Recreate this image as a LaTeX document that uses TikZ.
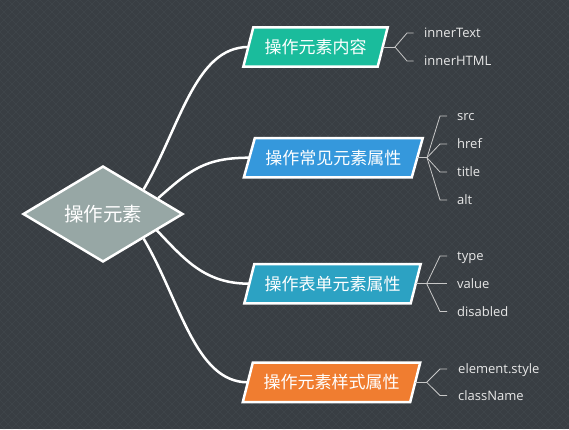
\documentclass[tikz,border=0pt]{standalone}
\usepackage{fontspec}
\setmainfont{Open Sans}
\newfontfamily\cjk{Noto Sans CJK SC}
\usetikzlibrary{shapes.geometric,backgrounds}
\definecolor{bg}{HTML}{393E43}
\definecolor{gridc}{HTML}{40464B}
\definecolor{cA}{HTML}{1ABC9C}
\definecolor{cB}{HTML}{3598DC}
\definecolor{cC}{HTML}{2CA2C3}
\definecolor{cD}{HTML}{F07D30}
\definecolor{cRoot}{HTML}{97A7A5}
\definecolor{leafc}{HTML}{C8C8C8}
\definecolor{leaft}{HTML}{E8E8E8}
\newcommand\paral[3]{%
  \filldraw[para, fill=#2] ([xshift=-#3]#1.south west) -- ([xshift=#3]#1.north west)
    -- ([xshift=#3]#1.north east) -- ([xshift=-#3]#1.south east) -- cycle;}
\begin{document}
\begin{tikzpicture}[x=1pt,y=-1pt,
  root/.style={diamond, draw=white, line width=2.5pt, fill=cRoot, minimum width=160pt,
    minimum height=92pt, inner sep=0pt, text=white, font=\cjk\fontsize{19.5}{20}\selectfont},
  boxtext/.style={rectangle, minimum height=39pt, inner sep=0pt, text=white,
    font=\cjk\fontsize{17}{18}\selectfont},
  branch/.style={draw=white, line width=2.5pt},
  leaf/.style={anchor=west, inner sep=0pt, text height=9.3pt, text depth=0pt, text=leaft,
    font=\fontsize{13}{14}\selectfont},
  leafline/.style={draw=leafc, line width=0.8pt},
  para/.style={draw=white, line width=2.5pt, line join=miter}
]
\useasboundingbox (0,0) rectangle (569,429);

% root
\node[root] (d) at (103,214) {操作元素};

% branch boxes
\node[boxtext, minimum width=134pt] (b1) at (315.5,47) {操作元素内容};
\node[boxtext, minimum width=167.5pt] (b2) at (333.3,157.7) {操作常见元素属性};
\node[boxtext, minimum width=166pt] (b3) at (332.5,283.7) {操作表单元素属性};
\node[boxtext, minimum width=167pt] (b4) at (331.5,382.3) {操作元素样式属性};

% branch points
\coordinate (p1) at (395,47);
\coordinate (p2) at (427,157.7);
\coordinate (p3) at (426.7,283.7);
\coordinate (p4) at (426.7,382.3);

% leaves
\node[leaf] (l11) at (424,33) {innerText};
\node[leaf] (l12) at (424,61) {innerHTML};
\node[leaf] (l21) at (457,116) {src};
\node[leaf] (l22) at (457,144) {href};
\node[leaf] (l23) at (457,172) {title};
\node[leaf] (l24) at (457,200) {alt};
\node[leaf] (l31) at (457,256) {type};
\node[leaf] (l32) at (457,283.7) {value};
\node[leaf] (l33) at (457,311.5) {disabled};
\node[leaf] (l41) at (458,369) {element.style};
\node[leaf] (l42) at (458,395.5) {className};

% main connectors
\draw[branch] (d.north east) .. controls (180,127) and (195,47) .. (b1.west);
\draw[branch] (d.16) .. controls (190,170) and (205,157.7) .. (b2.west);
\draw[branch] (d.-17) .. controls (185,260) and (205,283.7) .. (b3.west);
\draw[branch] (d.south east) .. controls (180,300) and (195,382.3) .. (b4.west);

% leaf connectors
\draw[leafline] (b1.east) -- (p1);
\foreach \l in {l11,l12}
  \draw[leafline] (p1) -- ([xshift=-17pt]\l.west) -- ([xshift=-10.5pt]\l.west);
\draw[leafline] (b2.east) -- (p2);
\foreach \l in {l21,l22,l23,l24}
  \draw[leafline] (p2) -- ([xshift=-17pt]\l.west) -- ([xshift=-10pt]\l.west);
\draw[leafline] (b3.east) -- (p3);
\foreach \l in {l31,l32,l33}
  \draw[leafline] (p3) -- ([xshift=-17pt]\l.west) -- ([xshift=-10pt]\l.west);
\draw[leafline] (b4.east) -- (p4);
\foreach \l in {l41,l42}
  \draw[leafline] (p4) -- ([xshift=-18pt]\l.west) -- ([xshift=-11pt]\l.west);

\begin{scope}[on background layer]
  \fill[bg] (0,0) rectangle (569,429);
  \begin{scope}
    \clip (0,0) rectangle (569,429);
    \foreach \i in {-55,...,72}
      \draw[gridc, line width=0.5pt] (\i*8,0) -- ++(429,429);
    \foreach \i in {0,...,126}
      \draw[gridc, line width=0.5pt] (\i*8,0) -- ++(-429,429);
  \end{scope}
  \paral{b1}{cA}{5pt}
  \paral{b2}{cB}{5.5pt}
  \paral{b3}{cC}{5pt}
  \paral{b4}{cD}{5pt}
\end{scope}
\end{tikzpicture}
\end{document}
